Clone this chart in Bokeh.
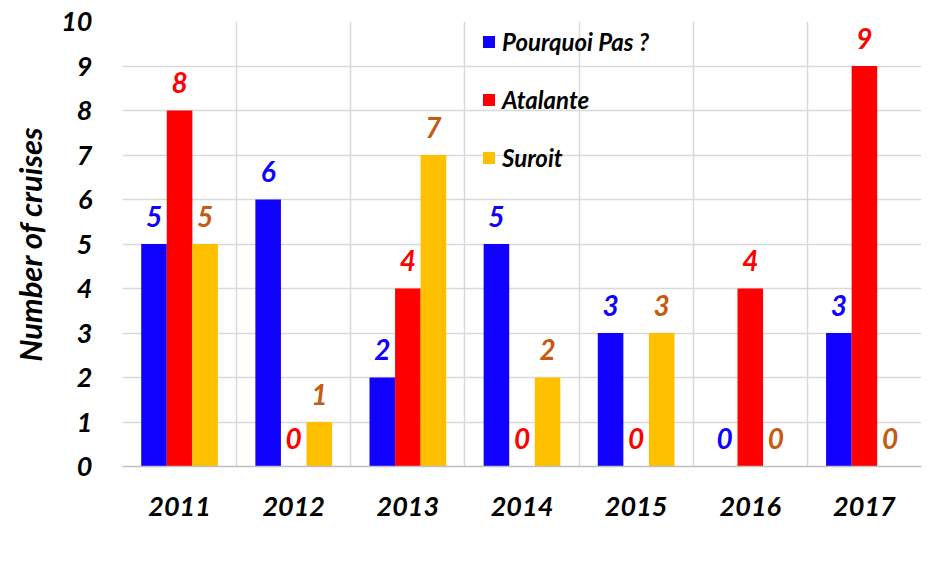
from bokeh.plotting import figure
from bokeh.models import (Range1d, FixedTicker, ColumnDataSource, Legend, LegendItem)
from bokeh.core.properties import value
from bokeh.embed import file_html
from bokeh.resources import INLINE

years = ["2011", "2012", "2013", "2014", "2015", "2016", "2017"]
series_names = ["Pourquoi Pas ?", "Atalante", "Suroit"]
pourquoi_pas = [5, 6, 2, 5, 3, 0, 3]
atalante = [8, 0, 4, 0, 0, 4, 9]
suroit = [5, 1, 7, 2, 3, 0, 0]
y_ticks = [0, 1, 2, 3, 4, 5, 6, 7, 8, 9, 10]

series_values = [pourquoi_pas, atalante, suroit]
bar_colors = ["#1000FF", "#FF0000", "#FFC000"]
label_colors = ["#1000FF", "#FF0000", "#C55A11"]
offsets = [-0.224, 0.0, 0.224]
bar_w = 0.224
FONT = "Lato"

p = figure(width=922, height=570, output_backend="svg", toolbar_location=None,
           x_range=Range1d(0, len(years)), y_range=Range1d(0, 10),
           min_border_left=122, min_border_right=1, min_border_top=21, min_border_bottom=104)
p.outline_line_color = None
p.background_fill_color = "white"
p.border_fill_color = "white"

renderers = []
for name, vals, bc, lc, off in zip(series_names, series_values, bar_colors, label_colors, offsets):
    xs = [i + 0.5 + off for i in range(len(years))]
    src = ColumnDataSource(dict(x=xs, top=vals, txt=[str(v) for v in vals]))
    r = p.vbar(x="x", top="top", width=bar_w, bottom=0, source=src,
               fill_color=bc, line_color=None)
    renderers.append((name, r))
    p.text(x="x", y="top", text="txt", source=src, text_color=lc,
           text_font=value(FONT), text_font_style="bold italic", text_font_size="28px",
           text_align="center", text_baseline="middle", y_offset=-28)

# axes
xa = p.xaxis[0]
xa.ticker = FixedTicker(ticks=[i + 0.5 for i in range(len(years))])
xa.major_label_overrides = {i + 0.5: y for i, y in enumerate(years)}
xa.major_tick_line_color = None
xa.minor_tick_line_color = None
xa.axis_line_color = "#BFBFBF"
xa.axis_line_width = 1.5
xa.major_label_text_font = FONT
xa.major_label_text_font_style = "bold italic"
xa.major_label_text_font_size = "27px"
xa.major_label_text_color = "black"
xa.major_label_standoff = 24

ya = p.yaxis[0]
ya.ticker = FixedTicker(ticks=y_ticks)
ya.major_tick_line_color = None
ya.minor_tick_line_color = None
ya.axis_line_color = None
ya.major_label_text_font = FONT
ya.major_label_text_font_style = "bold italic"
ya.major_label_text_font_size = "27px"
ya.major_label_text_color = "black"
ya.major_label_standoff = 24
ya.axis_label = "Number of cruises"
ya.axis_label_text_font = FONT
ya.axis_label_text_font_style = "bold italic"
ya.axis_label_text_font_size = "31px"
ya.axis_label_text_color = "black"
ya.axis_label_standoff = 9

p.xgrid.ticker = FixedTicker(ticks=list(range(len(years) + 1)))
p.xgrid.grid_line_color = "#D9D9D9"
p.xgrid.grid_line_width = 1.5
p.ygrid.grid_line_color = "#D9D9D9"
p.ygrid.grid_line_width = 1.5

legend = Legend(items=[LegendItem(label=n, renderers=[r]) for n, r in renderers],
                location=(359, 294), orientation="vertical",
                glyph_width=15, glyph_height=15, label_height=30, spacing=28,
                padding=0, margin=0, label_standoff=6,
                label_text_font=FONT, label_text_font_style="bold italic",
                label_text_font_size="24px", label_text_color="black",
                background_fill_alpha=0, border_line_color=None)
p.add_layout(legend)

open("out.html", "w").write(file_html(p, INLINE))
